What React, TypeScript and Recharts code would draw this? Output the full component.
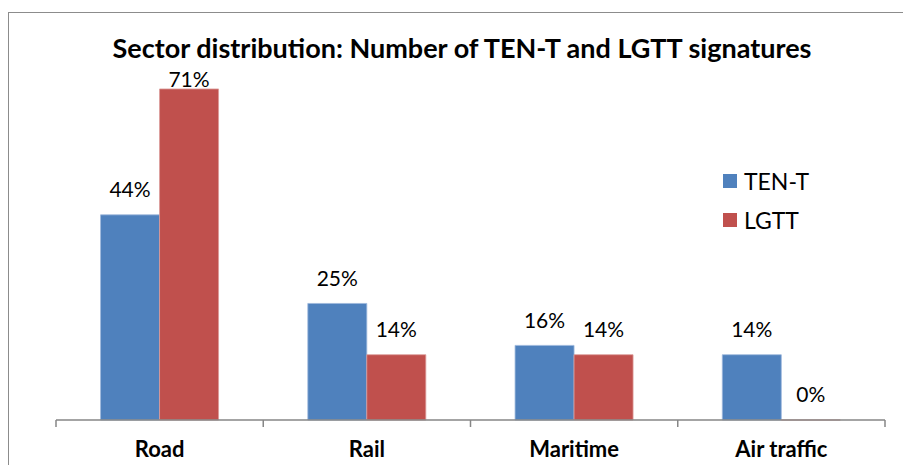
import { BarChart, Bar, XAxis, YAxis, LabelList } from "recharts";

const categories = ["Road", "Rail", "Maritime", "Air traffic"];
const tenT = [44, 25, 16, 14];
const lgtt = [71, 14, 14, 0];
const yDomain = [0, 80];

const seriesDefs = [
  { key: "tenT", name: "TEN-T", color: "#4F81BD", edge: "#9db8dc" },
  { key: "lgtt", name: "LGTT", color: "#C0504D", edge: "#dc9a98" },
];

const data = categories.map((name, i) => ({ name, tenT: tenT[i], lgtt: lgtt[i] }));

const W = 903;
const H = 465;
const margin = { top: 47, right: 18, bottom: 0, left: 56 };
const AXIS_H = 45;
const FONT = "Lato, 'Open Sans', sans-serif";
const AXIS_COLOR = "#868686";
const bandW = (W - margin.left - margin.right) / categories.length;

function CategoryTick(props: any) {
  const { x, y, payload, index } = props;
  const left = x - bandW / 2;
  const right = x + bandW / 2;
  return (
    <g>
      <line x1={left} y1={y} x2={left} y2={y + 7} stroke={AXIS_COLOR} strokeWidth={1.5} />
      {index === categories.length - 1 ? (
        <line x1={right} y1={y} x2={right} y2={y + 7} stroke={AXIS_COLOR} strokeWidth={1.5} />
      ) : null}
      <text
        x={x}
        y={y + 37}
        textAnchor="middle"
        fontFamily={FONT}
        fontWeight="bold"
        fontSize={22}
        fill="#000"
      >
        {payload.value}
      </text>
    </g>
  );
}

function ValueLabel(props: any) {
  const { x, y, width, value } = props;
  // outside-end labels, pushed back inside the plot when they would overflow
  const cy = Math.max(y - 25, margin.top + 33);
  return (
    <text
      x={x + width / 2}
      y={cy}
      dy="0.35em"
      textAnchor="middle"
      fontFamily={FONT}
      fontSize={21}
      fill="#000"
    >
      {value}%
    </text>
  );
}

function LegendBox() {
  return (
    <div
      style={{
        position: "absolute",
        left: 723,
        top: 161,
        fontFamily: FONT,
        fontSize: 23,
        color: "#000",
      }}
    >
      {seriesDefs.map((s) => (
        <div key={s.key} style={{ display: "flex", alignItems: "center", height: 39 }}>
          <span style={{ width: 14, height: 14, background: s.color, marginRight: 7 }} />
          <span>{s.name}</span>
        </div>
      ))}
    </div>
  );
}

export default function App() {
  return (
    <div style={{ position: "absolute", left: 0, top: 0, width: W, height: H, background: "#fff", overflow: "hidden" }}>
      <div
        style={{
          position: "absolute",
          left: 8,
          top: 12,
          width: W,
          height: H,
          borderLeft: "1.5px solid #8c8c8c",
          borderTop: "1.5px solid #8c8c8c",
        }}
      />
      <svg width={W} height={80} style={{ position: "absolute", left: 0, top: 0 }}>
        <text
          x={462}
          y={58}
          textAnchor="middle"
          fontFamily={FONT}
          fontWeight="bold"
          fontSize={27}
          fill="#000"
        >
          Sector distribution: Number of TEN-T and LGTT signatures
        </text>
      </svg>
      <div style={{ position: "absolute", left: 0, top: 0 }}>
        <BarChart width={W} height={H} data={data} margin={margin} barCategoryGap="21.5%" barGap={0}>
          <XAxis
            dataKey="name"
            height={AXIS_H}
            interval={0}
            tickSize={0}
            tickMargin={0}
            tickLine={false}
            axisLine={{ stroke: AXIS_COLOR, strokeWidth: 1.5 }}
            tick={<CategoryTick />}
          />
          <YAxis hide domain={yDomain} />
          {seriesDefs.map((s) => (
            <Bar
              key={s.key}
              dataKey={s.key}
              name={s.name}
              fill={s.color}
              stroke={s.edge}
              strokeWidth={0.8}
              minPointSize={(v: number) => (v === 0 ? 0.01 : 0)}
              isAnimationActive={false}
            >
              <LabelList dataKey={s.key} content={<ValueLabel />} />
            </Bar>
          ))}
        </BarChart>
      </div>
      <LegendBox />
    </div>
  );
}
